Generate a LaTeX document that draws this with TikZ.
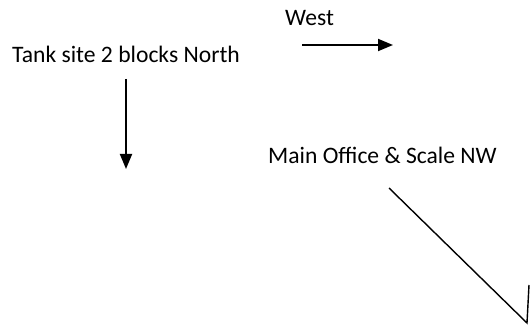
\documentclass[tikz,border=0pt]{standalone}
\usepackage{fontspec}
\setmainfont{Carlito}
\usetikzlibrary{arrows.meta}

\begin{document}
\begin{tikzpicture}
    [x=1pt,y=-1pt,
    label text/.style={anchor=base west,inner sep=0pt,font=\fontsize{23.6}{28}\selectfont},
    pointer/.style={line width=1.8pt,-{Triangle[length=15pt,width=12pt]}},
    stroke/.style={line width=1.4pt}]

    \useasboundingbox (0,0) rectangle (531,326);

    \node[label text] (tank) at (12,63) {Tank site 2 blocks North};
    \node[label text] (west) at (285,26) {West};
    \node[label text] (office) at (268,164) {Main Office \& Scale NW};

    \coordinate (tank top) at (126,79);
    \coordinate (tank end) at (126,169);
    \coordinate (west start) at (302,45);
    \coordinate (west end) at (393,45);
    \coordinate (office start) at (389,188);
    \coordinate (office bend) at (527,323);
    \coordinate (office top) at (529,285);

    \draw[pointer] (tank top) -- (tank end);
    \draw[pointer] (west start) -- (west end);
    \draw[stroke] (office start) -- (office bend) -- (office top);

\end{tikzpicture}
\end{document}
